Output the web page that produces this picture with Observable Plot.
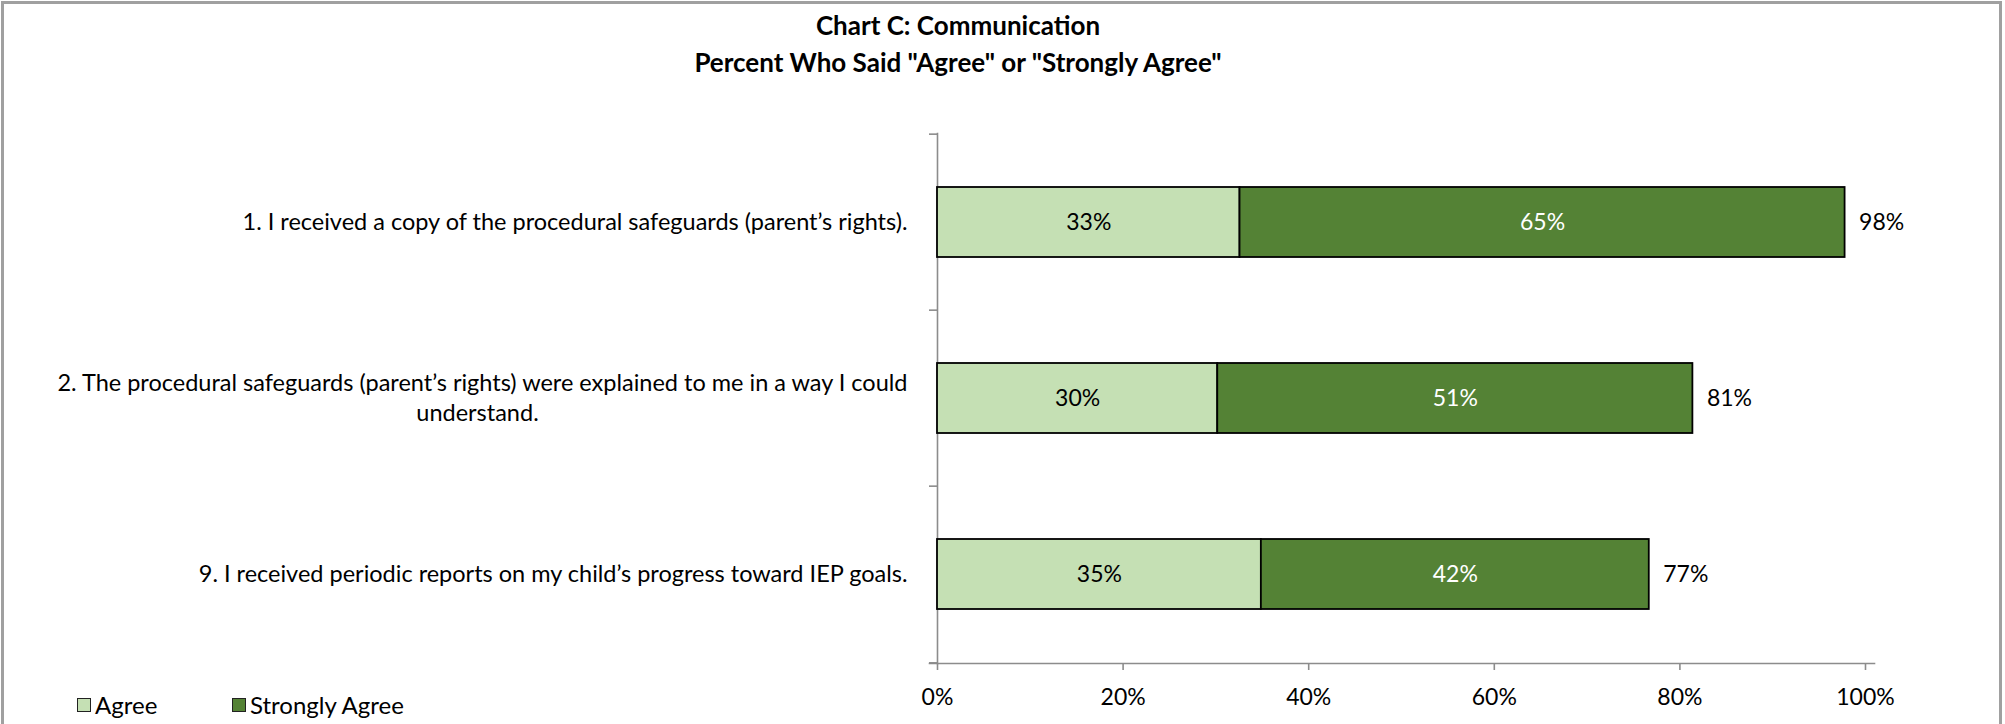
<!DOCTYPE html>
<html>
<head>
<meta charset="utf-8">
<script src="https://cdn.jsdelivr.net/npm/d3@7"></script>
<script src="https://cdn.jsdelivr.net/npm/@observablehq/plot@0.6"></script>
<style>
  html, body { margin: 0; padding: 0; background: #fff; }
  body { font-family: Lato, "Open Sans", sans-serif; color: #000; }
  #wrap { position: relative; width: 2005px; height: 724px; overflow: hidden; background: #fff; }
  #border { position: absolute; left: 1px; top: 1px; width: 2001px; height: 780px; border: 3px solid #a0a0a0; box-sizing: border-box; pointer-events: none; }
  #title { position: absolute; left: 0; top: 7px; width: 1916px; text-align: center; font-weight: bold; font-size: 26px; line-height: 37px; }
  #chart { position: absolute; left: 0; top: 100px; }
  .leg { position: absolute; top: 690px; height: 30px; line-height: 30px; font-size: 24px; display: flex; align-items: center; white-space: nowrap; }
  .sw { display: inline-block; width: 12px; height: 12px; border: 1px solid #222; margin-right: 4px; }
</style>
</head>
<body>
<div id="wrap">
  <div id="title"></div>
  <div id="chart"></div>
  <div id="legend"></div>
  <div id="border"></div>
</div>
<script>
// ---- data ----
const titleLines = ["Chart C: Communication", "Percent Who Said \"Agree\" or \"Strongly Agree\""];
const labelLines = [
  ["1. I received a copy of the procedural safeguards (parent\u2019s rights)."],
  ["2. The procedural safeguards (parent\u2019s rights) were explained to me in a way I could", "understand."],
  ["9. I received periodic reports on my child\u2019s progress toward IEP goals."]
];
const categories = labelLines.map(l => l.join(" "));
const series = ["Agree", "Strongly Agree"];
const agree = [32.6, 30.2, 34.9];
const stronglyAgree = [65.2, 51.2, 41.8];
const xTicks = [0, 20, 40, 60, 80, 100];
const colors = ["#C5E0B4", "#548235"];

// ---- derived tables ----
const rows = categories.flatMap((c, i) => [
  {cat: c, series: series[0], value: agree[i]},
  {cat: c, series: series[1], value: stronglyAgree[i]}
]);
const totals = categories.map((c, i) => ({cat: c, total: agree[i] + stronglyAgree[i]}));
const lineRows = labelLines.flatMap((lines, i) => lines.map((line, j) => ({cat: categories[i], line, j, n: lines.length})));
const fmt = v => Math.round(v) + "%";

// ---- title ----
document.getElementById("title").innerHTML = titleLines.map(t => `<div>${t.replace(/</g, "&lt;")}</div>`).join("");

// ---- chart ----
const W = 2005, H = 624, mt = 33, mb = 61, ml = 937, mr = 140;
const step = (H - mt - mb) / categories.length;
const lh = 30;
const labelSize = 23.5;

const plot = Plot.plot({
  width: W, height: H,
  marginTop: mt, marginBottom: mb, marginLeft: ml, marginRight: mr,
  style: {fontFamily: "Lato, 'Open Sans', sans-serif", fontSize: "23px", color: "#000", background: "transparent", overflow: "visible"},
  x: {domain: [0, 100], axis: null},
  y: {domain: categories, paddingInner: 0.6, paddingOuter: 0.3, axis: null},
  color: {domain: series, range: colors},
  marks: [
    // axis lines
    Plot.frame({anchor: "left", stroke: "#8c8c8c", strokeWidth: 1.6}),
    Plot.frame({anchor: "bottom", stroke: "#8c8c8c", strokeWidth: 1.6, insetLeft: -8, insetRight: -9}),
    // category boundary ticks
    Plot.ruleY(categories, {y: d => d, x1: 0, x2: 0, insetLeft: -8, dy: -step / 2, stroke: "#8c8c8c", strokeWidth: 1.6}),
    Plot.ruleY(categories.slice(-1), {y: d => d, x1: 0, x2: 0, insetLeft: -8, dy: step / 2, stroke: "#8c8c8c", strokeWidth: 1.6}),
    // bars
    Plot.barX(rows, Plot.stackX({x: "value", y: "cat", fill: "series", stroke: "#000", strokeWidth: 1.8})),
    // segment labels
    Plot.text(rows, Plot.stackX({x: "value", y: "cat", z: "series", text: d => d.series === series[0] ? fmt(d.value) : null, fill: "#000"})),
    Plot.text(rows, Plot.stackX({x: "value", y: "cat", z: "series", text: d => d.series === series[1] ? fmt(d.value) : null, fill: "#fff"})),
    // totals
    Plot.text(totals, {x: "total", y: "cat", text: d => fmt(d.total), textAnchor: "start", dx: 14, fill: "#000"}),
    // category labels
    Plot.text(lineRows.filter(d => d.n === 1), {y: "cat", text: "line", frameAnchor: "left", textAnchor: "end", dx: -30, fill: "#000", fontSize: labelSize}),
    Plot.text(lineRows.filter(d => d.n === 2 && d.j === 0), {y: "cat", text: "line", frameAnchor: "left", textAnchor: "end", dx: -30, dy: -lh / 2, fill: "#000", fontSize: labelSize}),
    Plot.text(lineRows.filter(d => d.n === 2 && d.j === 1), {y: "cat", text: "line", frameAnchor: "left", textAnchor: "middle", dx: -460, dy: lh / 2, fill: "#000", fontSize: labelSize}),
    // x axis
    Plot.axisX({ticks: xTicks, tickFormat: d => d + "%", tickSize: 7, tickPadding: 18, stroke: "#8c8c8c", strokeWidth: 1.6, fill: "#000", label: null, fontSize: 23})
  ]
});
document.getElementById("chart").appendChild(plot);

// ---- legend ----
const legendX = [77, 232];
document.getElementById("legend").innerHTML = series.map((s, i) =>
  `<div class="leg" style="left:${legendX[i]}px"><span class="sw" style="background:${colors[i]}"></span>${s}</div>`).join("");
</script>
</body>
</html>
